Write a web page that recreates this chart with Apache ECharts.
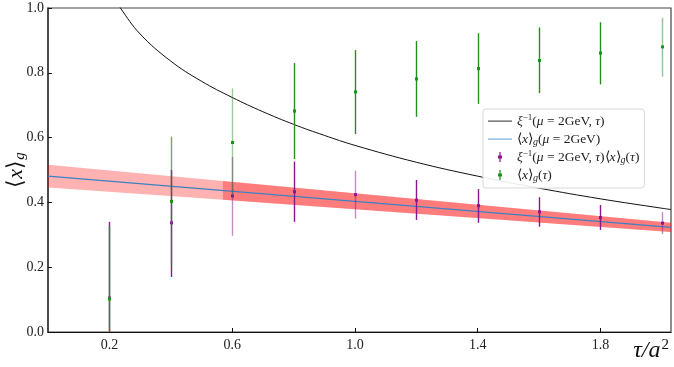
<!DOCTYPE html>
<html>
<head>
<meta charset="utf-8">
<script src="https://cdn.jsdelivr.net/npm/echarts@6/dist/echarts.min.js"></script>
<style>
html, body { margin: 0; padding: 0; background: #fff; }
#main { width: 674px; height: 367px; }
</style>
</head>
<body>
<div id="main"></div>
<script>
// flow time points
var tau = [0.2, 0.4, 0.6, 0.8, 1.0, 1.2, 1.4, 1.6, 1.8, 2.0];

// <x>_g(tau), green
var rawMean = [0.102, 0.403, 0.585, 0.682, 0.741, 0.781, 0.813, 0.838, 0.861, 0.880];
var rawLo   = [0.000, 0.207, 0.420, 0.534, 0.611, 0.664, 0.704, 0.737, 0.764, 0.788];
var rawHi   = [0.330, 0.603, 0.752, 0.830, 0.870, 0.898, 0.922, 0.940, 0.956, 0.970];

// xi^-1 * <x>_g(tau), purple
var prodMean = [0.105, 0.337, 0.420, 0.433, 0.424, 0.407, 0.390, 0.371, 0.353, 0.336];
var prodLo   = [0.000, 0.170, 0.297, 0.340, 0.350, 0.346, 0.337, 0.325, 0.315, 0.302];
var prodHi   = [0.340, 0.500, 0.540, 0.526, 0.498, 0.469, 0.441, 0.416, 0.392, 0.370];

// xi^-1(mu = 2GeV, tau) curve
var xiTau = [0.20, 0.236, 0.30, 0.40, 0.50, 0.60, 0.70, 0.80, 0.90, 1.0, 1.2, 1.4, 1.6, 1.8, 2.0, 2.03];
var xiVal = [1.054, 1.000, 0.920, 0.836, 0.774, 0.724, 0.680, 0.641, 0.607, 0.576, 0.524, 0.481, 0.444, 0.411, 0.382, 0.378];

// fitted <x>_g(mu = 2GeV) line and its band
var fitTau = [0, 2.03];
var fitVal = [0.481, 0.323];
var bandTau = [0, 0.57, 2.03];
var bandLo  = [0.446, 0.408, 0.309];
var bandHi  = [0.516, 0.466, 0.337];

// how strong each error bar is drawn (some are paler in the picture)
var rawAlpha  = [1, 0.7, 0.45, 1, 1, 1, 1, 1, 1, 0.5];
var prodAlpha = [1, 1, 0.5, 1, 0.5, 1, 1, 1, 1, 0.5];

var xTicks = [0.2, 0.6, 1.0, 1.4, 1.8];

var serif = 'Liberation Serif';

function bandSeries(from, color) {
    return {
        type: 'custom',
        name: 'band' + from,
        silent: true,
        clip: true,
        z: 1,
        data: [0],
        renderItem: function (params, api) {
            var pts = [];
            for (var i = from; i < bandTau.length; i++) pts.push(api.coord([bandTau[i], bandHi[i]]));
            for (var j = bandTau.length - 1; j >= from; j--) pts.push(api.coord([bandTau[j], bandLo[j]]));
            return { type: 'polygon', shape: { points: pts }, style: { fill: color } };
        }
    };
}

function errSeries(name, mean, lo, hi, alpha, color) {
    return {
        type: 'custom',
        name: name,
        z: 5,
        itemStyle: { color: color },
        data: tau.map(function (t, i) { return [t, mean[i], lo[i], hi[i], alpha[i]]; }),
        encode: { x: 0, y: [1, 2, 3] },
        renderItem: function (params, api) {
            var top = api.coord([api.value(0), api.value(3)]);
            var bot = api.coord([api.value(0), api.value(2)]);
            var mid = api.coord([api.value(0), api.value(1)]);
            var x = Math.round(top[0]) + 0.5;
            return {
                type: 'group',
                children: [
                    { type: 'line', shape: { x1: x, y1: top[1], x2: x, y2: bot[1] },
                      style: { stroke: color, lineWidth: 1.4, opacity: api.value(4) } },
                    { type: 'rect', shape: { x: x - 1.5, y: mid[1] - 1.5, width: 3, height: 3 },
                      style: { fill: color } }
                ]
            };
        }
    };
}

var errIcon = 'path://M11.4,0 L12.6,0 L12.6,3.5 L14,3.5 L14,6.5 L12.6,6.5 L12.6,10 L11.4,10 L11.4,6.5 L10,6.5 L10,3.5 L11.4,3.5 Z M0,0 L0.01,0 L0.01,0.01 Z M24,10 L23.99,10 L23.99,9.99 Z';
var lineIcon = 'path://M0,4.5 L24,4.5 L24,5.7 L0,5.7 Z M0,0 L0.01,0 L0.01,0.01 Z M24,10 L23.99,10 L23.99,9.99 Z';

var legendText = {
    xi:   '{i|ξ}{sup|−1}({i|μ} = 2GeV, {i|τ})',
    fit:  '⟨{i|x}⟩{sub|g}({i|μ} = 2GeV)',
    prod: '{i|ξ}{sup|−1}({i|μ} = 2GeV, {i|τ})⟨{i|x}⟩{sub|g}({i|τ})',
    raw:  '⟨{i|x}⟩{sub|g}({i|τ})'
};

var chart = echarts.init(document.getElementById('main'));

var option = {
    animation: false,
    backgroundColor: '#fff',
    grid: {
        left: 48, right: 3, top: 8, bottom: 35,
        outerBoundsMode: 'none',
        show: true, borderColor: '#444', borderWidth: 1.2
    },
    legend: {
        orient: 'vertical',
        left: 483, top: 109,
        padding: [3, 5, 4, 5],
        itemWidth: 24, itemHeight: 10, itemGap: 0,
        backgroundColor: 'rgba(255,255,255,0.9)',
        borderColor: '#d8d8d8', borderWidth: 1, borderRadius: 3,
        data: [
            { name: 'xi', icon: lineIcon, itemStyle: { color: '#555' } },
            { name: 'fit', icon: lineIcon, itemStyle: { color: '#7fb3dc' } },
            { name: 'prod', icon: errIcon },
            { name: 'raw', icon: errIcon }
        ],
        formatter: function (n) { return legendText[n]; },
        textStyle: {
            fontFamily: serif, fontSize: 13.5, color: '#222', lineHeight: 18,
            rich: {
                i: { fontFamily: serif, fontSize: 13.5, fontStyle: 'italic', color: '#222', lineHeight: 18 },
                sup: { fontFamily: serif, fontSize: 9, color: '#222', padding: [0, 0, 7, 0], lineHeight: 18 },
                sub: { fontFamily: serif, fontSize: 10, fontStyle: 'italic', color: '#222', padding: [6, 0, 0, 0], lineHeight: 18 }
            }
        }
    },
    xAxis: {
        type: 'value',
        min: 0, max: 2.03,
        name: '{i|τ/a}{sup|2}',
        nameLocation: 'end',
        nameGap: 0,
        nameMoveOverlap: false,
        nameTextStyle: {
            align: 'right', verticalAlign: 'top', padding: [6, 2, 0, 0],
            rich: {
                i: { fontFamily: serif, fontSize: 24, fontStyle: 'italic', color: '#111' },
                sup: { fontFamily: serif, fontSize: 15, color: '#111', padding: [0, 0, 10, 1] }
            }
        },
        axisLine: { lineStyle: { color: '#111', width: 1.2 } },
        axisTick: { inside: true, length: 4, customValues: xTicks, lineStyle: { color: '#111' } },
        axisLabel: {
            customValues: xTicks, margin: 6,
            fontFamily: serif, fontSize: 14, color: '#222',
            formatter: function (v) { return v.toFixed(1); }
        },
        splitLine: { show: false }
    },
    yAxis: {
        type: 'value',
        min: 0, max: 1, interval: 0.2,
        name: '⟨{i|x}⟩{sub|g}',
        nameLocation: 'middle',
        nameGap: 20,
        nameMoveOverlap: false,
        nameTextStyle: {
            fontFamily: serif, fontSize: 22, color: '#111',
            rich: {
                i: { fontFamily: serif, fontSize: 22, fontStyle: 'italic', color: '#111' },
                sub: { fontFamily: serif, fontSize: 15, fontStyle: 'italic', color: '#111', padding: [9, 0, 0, 0] }
            }
        },
        axisLine: { show: true, lineStyle: { color: '#333', width: 1.5 } },
        axisTick: { inside: true, length: 4, lineStyle: { color: '#111' } },
        axisLabel: {
            margin: 4,
            fontFamily: serif, fontSize: 14, color: '#222',
            formatter: function (v) { return v.toFixed(1); }
        },
        splitLine: { show: false }
    },
    series: [
        bandSeries(0, 'rgba(255,0,0,0.3)'),
        bandSeries(1, 'rgba(255,0,0,0.3)'),
        {
            type: 'line', name: 'xi',
            data: xiTau.map(function (t, i) { return [t, xiVal[i]]; }),
            smooth: 0.4, symbol: 'none', clip: true, z: 3,
            lineStyle: { color: '#111', width: 1 },
            itemStyle: { color: '#111' }
        },
        {
            type: 'line', name: 'fit',
            data: fitTau.map(function (t, i) { return [t, fitVal[i]]; }),
            symbol: 'none', clip: true, z: 3,
            lineStyle: { color: '#3b82c4', width: 1.2 },
            itemStyle: { color: '#3b82c4' }
        },
        errSeries('prod', prodMean, prodLo, prodHi, prodAlpha, '#8b158b'),
        errSeries('raw', rawMean, rawLo, rawHi, rawAlpha, '#1f8f1f')
    ]
};

chart.setOption(option);
</script>
</body>
</html>
